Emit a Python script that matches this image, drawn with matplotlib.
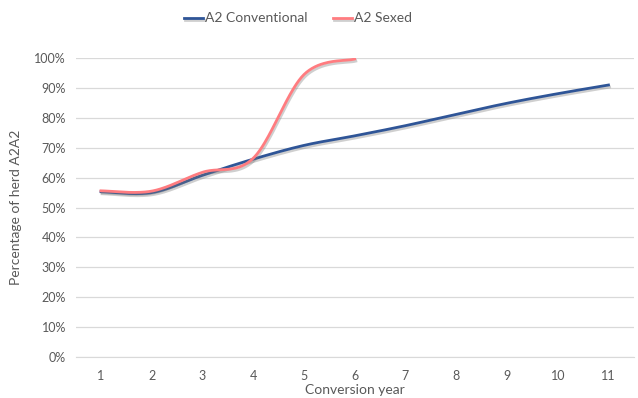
import numpy as np
import matplotlib
matplotlib.use("Agg")
import matplotlib.pyplot as plt
import matplotlib.patheffects as pe

years = [1, 2, 3, 4, 5, 6, 7, 8, 9, 10, 11]
conventional = [0.553, 0.550, 0.608, 0.662, 0.708, 0.740, 0.774, 0.812, 0.849, 0.881, 0.910]
sexed_years = [1, 2, 3, 4, 5, 6]
sexed = [0.556, 0.555, 0.618, 0.665, 0.945, 0.997]
yticks = [0, 0.1, 0.2, 0.3, 0.4, 0.5, 0.6, 0.7, 0.8, 0.9, 1.0]

def smooth(x, y, n=40):
    # Bezier rendering of a smoothed line (Excel "smoothed line" style)
    x = np.asarray(x, float); y = np.asarray(y, float)
    px = np.concatenate([[x[0]], x, [x[-1]]])
    py = np.concatenate([[y[0]], y, [y[-1]]])
    ox, oy = [], []
    t = np.linspace(0, 1, n, endpoint=False)
    for i in range(1, len(px)-2):
        for arr, out in ((px, ox), (py, oy)):
            p0, p1, p2, p3 = arr[i-1], arr[i], arr[i+1], arr[i+2]
            c1 = p1 + (p2 - p0) / 6.0
            c2 = p2 - (p3 - p1) / 6.0
            out.extend((1-t)**3*p1 + 3*(1-t)**2*t*c1 + 3*(1-t)*t**2*c2 + t**3*p2)
    ox.append(x[-1]); oy.append(y[-1])
    return np.array(ox), np.array(oy)

plt.rcParams['font.family'] = ['Lato', 'DejaVu Sans']
grey = '#595959'

fig = plt.figure(figsize=(6.38, 3.98), dpi=100)
ax = fig.add_axes([0.1185, 0.103, 0.875, 0.751])

shadow = [pe.SimpleLineShadow(offset=(0.8, -1.5), shadow_color='#777777', alpha=0.35), pe.Normal()]
cx, cy = smooth(years, conventional)
ax.plot(cx, cy, color='#2F5597', lw=2.0, label='A2 Conventional', path_effects=shadow, zorder=3)
sx, sy = smooth(sexed_years, sexed)
ax.plot(sx, sy, color='#FF7C80', lw=2.0, label='A2 Sexed', path_effects=shadow, zorder=4)

ax.set_xlim(0.5, 11.5)
ax.set_ylim(0, 1.0)
ax.set_xticks(years)
ax.set_xticklabels([str(y) for y in years])
ax.set_yticks(yticks)
ax.set_yticklabels([f"{int(round(v*100))}%" for v in yticks])
ax.grid(axis='y', color='#D9D9D9', lw=0.9)
ax.set_axisbelow(True)
for s in ['top', 'right', 'left']:
    ax.spines[s].set_visible(False)
ax.spines['bottom'].set_color('#D9D9D9')
ax.tick_params(axis='both', length=0, colors=grey, labelsize=9)
ax.tick_params(axis='x', pad=9)
ax.tick_params(axis='y', pad=7)
ax.set_xlabel('Conversion year', color=grey, fontsize=10, labelpad=2)
ax.set_ylabel('Percentage of herd A2A2', color=grey, fontsize=10, labelpad=9)

leg = fig.legend(loc='upper center', bbox_to_anchor=(0.467, 1.0), ncol=2, frameon=False,
                 fontsize=10, handlelength=1.4, columnspacing=1.8, handletextpad=0.15)
for t in leg.get_texts():
    t.set_color(grey)

fig.savefig('out.png', dpi=100)
